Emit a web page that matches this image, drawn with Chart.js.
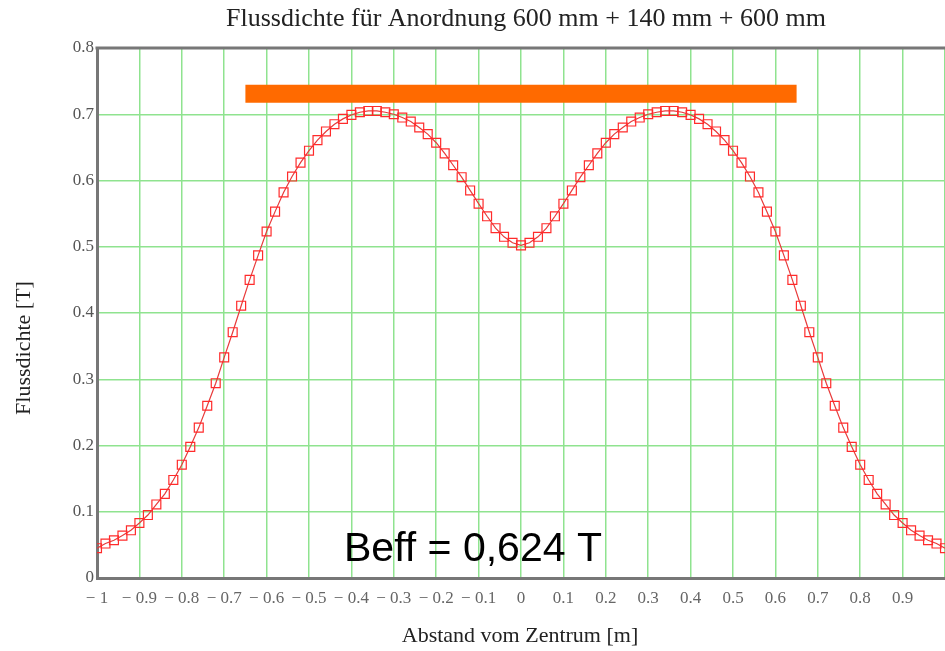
<!DOCTYPE html>
<html>
<head>
<meta charset="utf-8">
<script src="https://cdn.jsdelivr.net/npm/chart.js@4.4.1/dist/chart.umd.min.js"></script>
<style>
  html, body { margin:0; padding:0; background:#fff; }
  #wrap { width:945px; height:651px; }
</style>
</head>
<body>
<div id="wrap"><canvas id="flux" width="945" height="651"></canvas></div>
<script>
// ── Data ──────────────────────────────────────────────────
const TITLE   = 'Flussdichte für Anordnung 600 mm + 140 mm + 600 mm';
const X_TITLE = 'Abstand vom Zentrum [m]';
const Y_TITLE = 'Flussdichte [T]';
const NOTE    = 'Beff = 0,624 T';

const distance = [
  -1.00, -0.98, -0.96, -0.94, -0.92, -0.90, -0.88, -0.86, -0.84, -0.82,
  -0.80, -0.78, -0.76, -0.74, -0.72, -0.70, -0.68, -0.66, -0.64, -0.62,
  -0.60, -0.58, -0.56, -0.54, -0.52, -0.50, -0.48, -0.46, -0.44, -0.42,
  -0.40, -0.38, -0.36, -0.34, -0.32, -0.30, -0.28, -0.26, -0.24, -0.22,
  -0.20, -0.18, -0.16, -0.14, -0.12, -0.10, -0.08, -0.06, -0.04, -0.02,
   0.00,
   0.02,  0.04,  0.06,  0.08,  0.10,  0.12,  0.14,  0.16,  0.18,  0.20,
   0.22,  0.24,  0.26,  0.28,  0.30,  0.32,  0.34,  0.36,  0.38,  0.40,
   0.42,  0.44,  0.46,  0.48,  0.50,  0.52,  0.54,  0.56,  0.58,  0.60,
   0.62,  0.64,  0.66,  0.68,  0.70,  0.72,  0.74,  0.76,  0.78,  0.80,
   0.82,  0.84,  0.86,  0.88,  0.90,  0.92,  0.94,  0.96,  0.98,  1.00,
];

const fluxDensity = [
  0.045, 0.052, 0.057, 0.064, 0.072, 0.083, 0.095, 0.111, 0.127, 0.148,
  0.171, 0.198, 0.227, 0.260, 0.294, 0.333, 0.371, 0.411, 0.450, 0.487,
  0.523, 0.553, 0.582, 0.606, 0.627, 0.645, 0.661, 0.674, 0.685, 0.693,
  0.699, 0.703, 0.705, 0.705, 0.703, 0.700, 0.695, 0.689, 0.680, 0.670,
  0.657, 0.641, 0.623, 0.605, 0.585, 0.565, 0.546, 0.528, 0.515, 0.506,
  0.502,
  0.506, 0.515, 0.528, 0.546, 0.565, 0.585, 0.605, 0.623, 0.641, 0.657,
  0.670, 0.680, 0.689, 0.695, 0.700, 0.703, 0.705, 0.705, 0.703, 0.699,
  0.693, 0.685, 0.674, 0.661, 0.645, 0.627, 0.606, 0.582, 0.553, 0.523,
  0.487, 0.450, 0.411, 0.371, 0.333, 0.294, 0.260, 0.227, 0.198, 0.171,
  0.148, 0.127, 0.111, 0.095, 0.083, 0.072, 0.064, 0.057, 0.052, 0.045,
];

// orange bar marking the magnet length
const barX = [-0.65, 0.65];
const barY = [0.731, 0.731];

// ── Colors / fonts ────────────────────────────────────────
const SERIF = '"Liberation Serif", "Times New Roman", serif';
const SANS  = '"Liberation Sans", Arial, sans-serif';
const GRID  = '#8fe38f';
const FRAME = '#777777';

// ── Texts + top frame line ────────────────────────────────
const decor = {
  id: 'decor',
  afterDatasetsDraw(chart) {
    const { ctx, chartArea: a } = chart;
    ctx.save();
    ctx.strokeStyle = FRAME;
    ctx.lineWidth = 3;
    ctx.beginPath();
    ctx.moveTo(a.left - 1.5, a.top);
    ctx.lineTo(a.right, a.top);
    ctx.stroke();
    ctx.restore();
  },
  afterDraw(chart) {
    const { ctx } = chart;
    ctx.save();
    ctx.fillStyle = '#222';
    ctx.textAlign = 'center';
    ctx.textBaseline = 'middle';
    ctx.font = `26px ${SERIF}`;
    ctx.fillText(TITLE, 526, 19);

    ctx.font = `22px ${SERIF}`;
    ctx.fillText(X_TITLE, 520, 636);

    ctx.translate(24, 348);
    ctx.rotate(-Math.PI / 2);
    ctx.fillText(Y_TITLE, 0, 0);
    ctx.restore();

    ctx.save();
    ctx.fillStyle = '#000';
    ctx.font = `41px ${SANS}`;
    ctx.textAlign = 'left';
    ctx.textBaseline = 'alphabetic';
    ctx.fillText(NOTE, 344, 561);
    ctx.restore();
  },
};

function xLabel(v) {
  if (Math.abs(v - 1) < 1e-9) return '';
  if (Math.abs(v) < 1e-9) return '0';
  const s = Math.abs(Math.abs(v) - 1) < 1e-9 ? '1' : Math.abs(v).toFixed(1);
  return v < 0 ? '\u2212 ' + s : s;
}

new Chart(document.getElementById('flux'), {
  type: 'line',
  data: {
    datasets: [
      {
        data: barX.map((x, i) => ({ x, y: barY[i] })),
        borderColor: '#ff6a00',
        borderWidth: 18,
        borderCapStyle: 'butt',
        pointRadius: 0,
        order: 2,
      },
      {
        data: distance.map((x, i) => ({ x, y: fluxDensity[i] })),
        borderColor: '#e83a3a',
        borderWidth: 1.2,
        pointStyle: 'rect',
        pointRadius: 6.3,
        pointBorderWidth: 1.2,
        pointBorderColor: '#ff2b2b',
        pointBackgroundColor: 'rgba(0,0,0,0)',
        tension: 0,
        order: 1,
      },
    ],
  },
  options: {
    responsive: false,
    animation: false,
    layout: { autoPadding: false, padding: { top: 48, right: 0, left: 0, bottom: 0 } },
    plugins: { legend: { display: false }, tooltip: { enabled: false } },
    scales: {
      x: {
        type: 'linear',
        min: -1, max: 1,
        afterFit: s => { s.height = 73; s.paddingLeft = 0; s.paddingRight = 0; },
        grid:   { color: GRID, lineWidth: 1.5, drawTicks: false },
        border: { color: FRAME, width: 3 },
        ticks: {
          stepSize: 0.1, autoSkip: false, maxRotation: 0, padding: 10,
          color: '#666', font: { family: SERIF, size: 17 },
          callback: xLabel,
        },
      },
      y: {
        min: 0, max: 0.8,
        afterFit: s => { s.width = 97; },
        grid:   { color: GRID, lineWidth: 1.5, drawTicks: false },
        border: { color: FRAME, width: 3 },
        ticks: {
          stepSize: 0.1, padding: 3,
          color: '#555', font: { family: SERIF, size: 17 },
          callback: v => (Math.abs(v) < 1e-9 ? '0' : v.toFixed(1)),
        },
      },
    },
  },
  plugins: [decor],
});
</script>
</body>
</html>
